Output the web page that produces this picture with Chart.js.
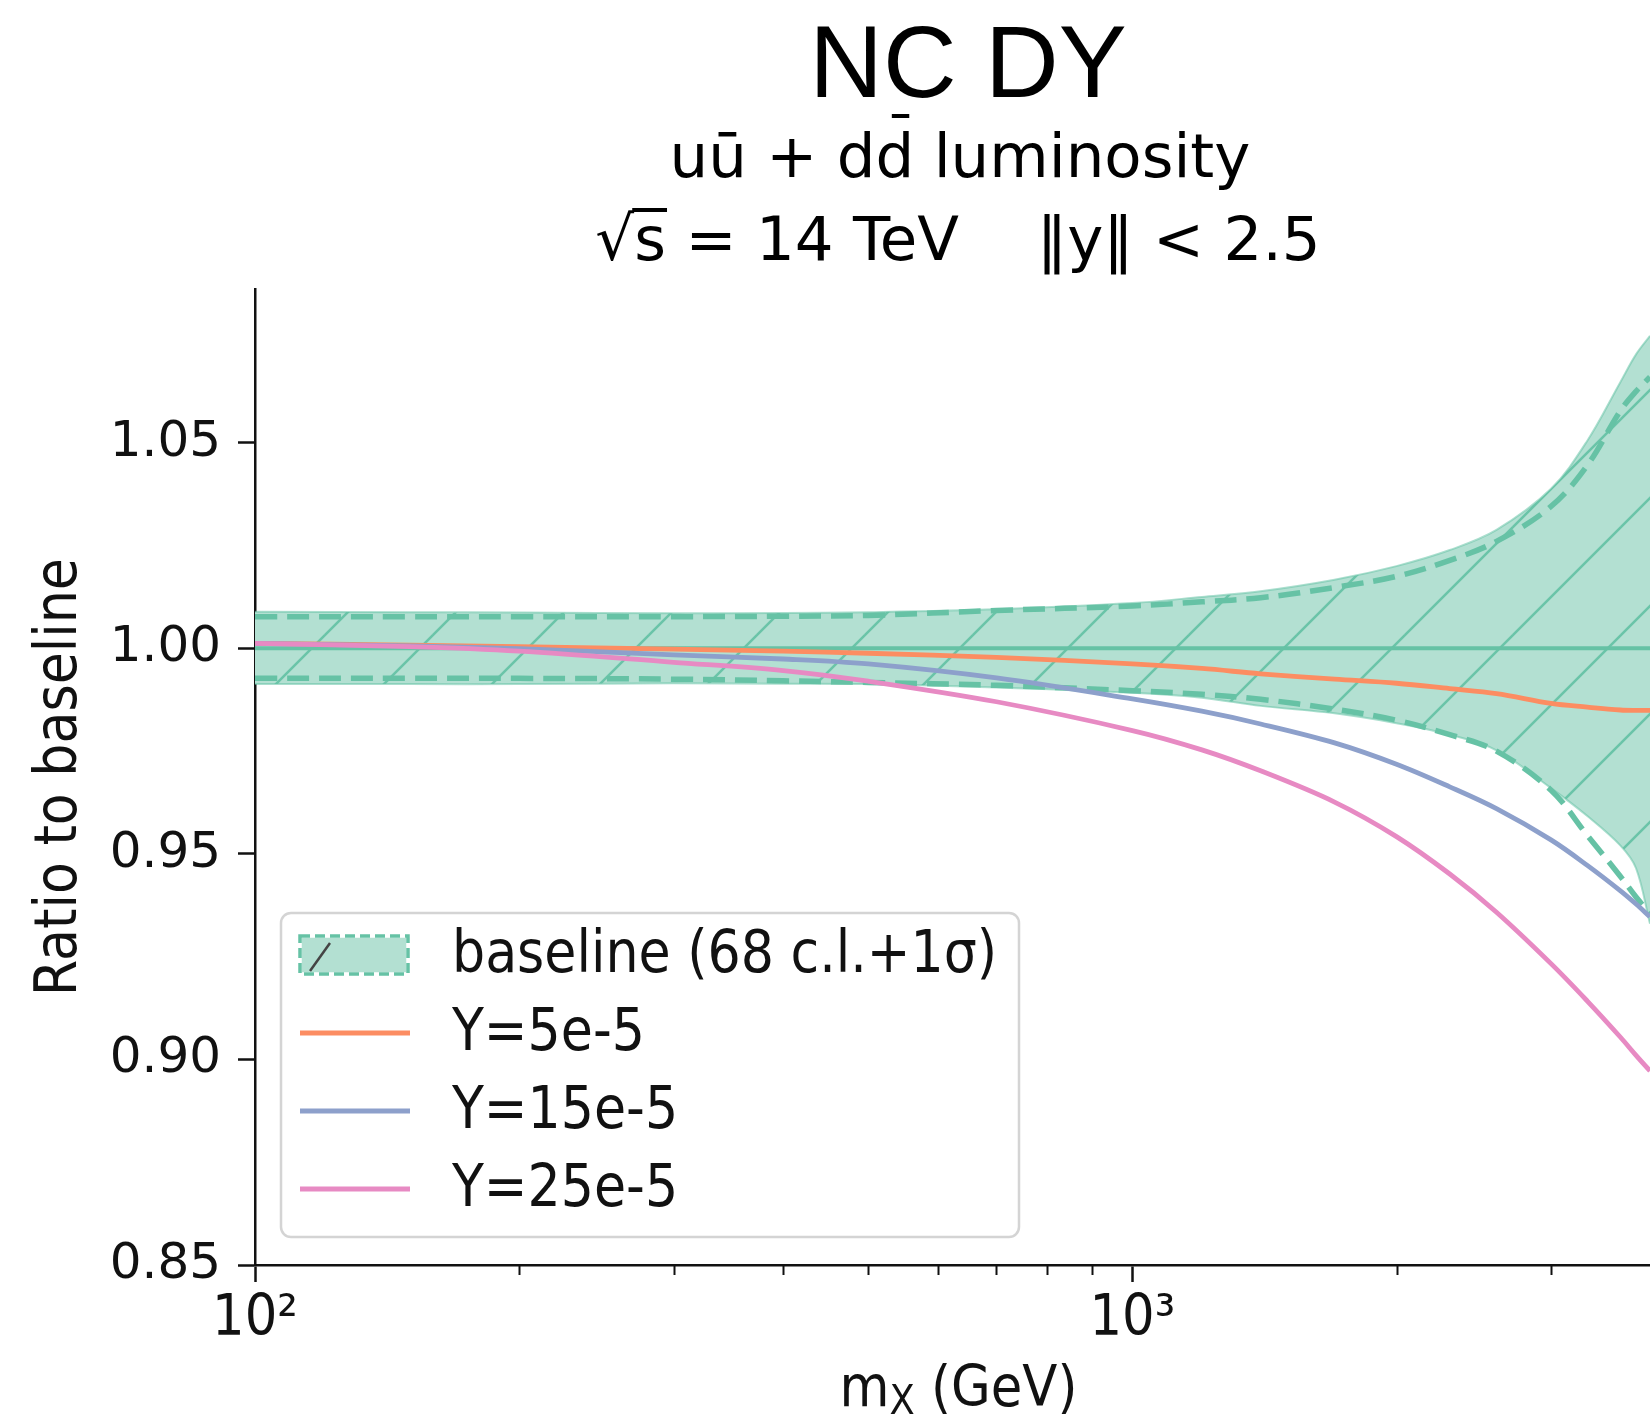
<!DOCTYPE html>
<html>
<head>
<meta charset="utf-8">
<title>NC DY luminosity ratio</title>
<script src="https://cdn.jsdelivr.net/npm/chart.js@4.4.1/dist/chart.umd.min.js"></script>
<style>
  html, body { margin: 0; padding: 0; background: #fff; overflow: hidden; }
  #wrap { width: 1650px; height: 1418px; }
</style>
</head>
<body>
<div id="wrap"><canvas id="lumiChart" width="1650" height="1418"></canvas></div>
<script>
// invariant mass grid (GeV)
const masses = [100, 150, 200, 300, 400, 500, 700, 1000, 1200, 1400, 1700, 2000, 2300, 2600, 3000, 3300, 3600, 3750, 3890];

// baseline uncertainty: 68 c.l. envelope and 1 sigma
const band68Upper = [1.0089, 1.0088, 1.0087, 1.0085, 1.0086, 1.0088, 1.0095, 1.0110, 1.0125, 1.0139, 1.0167, 1.0200, 1.0239, 1.0288, 1.0388, 1.0505, 1.0648, 1.0715, 1.0760];
const band68Lower = [0.9913, 0.9913, 0.9913, 0.9915, 0.9914, 0.9913, 0.9905, 0.9892, 0.9880, 0.9860, 0.9842, 0.9818, 0.9790, 0.9752, 0.9660, 0.9592, 0.9520, 0.9465, 0.9330];
const sigmaUpper  = [1.0077, 1.0077, 1.0077, 1.0077, 1.0078, 1.0080, 1.0092, 1.0103, 1.0113, 1.0123, 1.0148, 1.0175, 1.0214, 1.0260, 1.0345, 1.0445, 1.0578, 1.0625, 1.0660];
const sigmaLower  = [0.9927, 0.9927, 0.9927, 0.9925, 0.9921, 0.9917, 0.9910, 0.9897, 0.9888, 0.9876, 0.9852, 0.9825, 0.9790, 0.9750, 0.9655, 0.9545, 0.9445, 0.9395, 0.9355];

// ratios for the three Y values
const ratioY5  = [1.0012, 1.0008, 1.0004, 0.9998, 0.9993, 0.9988, 0.9978, 0.9962, 0.9951, 0.9938, 0.9925, 0.9915, 0.9902, 0.9890, 0.9866, 0.9857, 0.9850, 0.9849, 0.9849];
const ratioY15 = [1.0012, 1.0006, 0.9999, 0.9984, 0.9974, 0.9962, 0.9928, 0.9877, 0.9847, 0.9816, 0.9770, 0.9718, 0.9663, 0.9610, 0.9534, 0.9472, 0.9410, 0.9378, 0.9347];
const ratioY25 = [1.0012, 1.0004, 0.9993, 0.9966, 0.9946, 0.9920, 0.9870, 0.9800, 0.9753, 0.9702, 0.9626, 0.9542, 0.9451, 0.9358, 0.9233, 0.9142, 0.9054, 0.9010, 0.8972];

const seriesLabels = ['baseline (68 c.l.+1σ)', 'Y=5e-5', 'Y=15e-5', 'Y=25e-5'];

const xMajor = [100, 1000];
const xMinor = [200, 300, 400, 500, 600, 700, 800, 900, 2000, 3000];
const xTickText = { 100: '10²', 1000: '10³' };
const yTicks = [0.85, 0.90, 0.95, 1.00, 1.05];

const GREEN = '#66c2a5';
const FILL = '#b3e0d2';
const ORANGE = '#fc8d62';
const BLUE = '#8da0cb';
const PINK = '#e78ac3';
const COND = '"DejaVu Sans Condensed", "DejaVu Sans", sans-serif';

const pts = vals => masses.map((m, i) => ({ x: m, y: vals[i] }));

// "/" hatch on top of the band fill
function makeHatch() {
    const s = 108;
    const c = document.createElement('canvas');
    c.width = s; c.height = s;
    const g = c.getContext('2d');
    g.fillStyle = FILL;
    g.fillRect(0, 0, s, s);
    g.strokeStyle = 'rgba(102,194,165,0.95)';
    g.lineWidth = 2.5;
    [96 - s, 96, 96 + s].forEach(k => {
        g.beginPath();
        g.moveTo(-20, k + 20);
        g.lineTo(k + 20, -20);
        g.stroke();
    });
    return g.createPattern(c, 'repeat');
}

const textPlugin = {
    id: 'headings',
    afterDraw(chart) {
        const ctx = chart.ctx;
        ctx.save();
        ctx.fillStyle = '#000';
        ctx.textBaseline = 'alphabetic';
        ctx.textAlign = 'center';
        ctx.font = '102px "Liberation Sans", Arial, sans-serif';
        ctx.fillText('NC DY', 968, 97);

        // first subtitle line: bar over the second d drawn by hand
        ctx.font = '61px "DejaVu Sans", sans-serif';
        const l1 = 'uū + dd luminosity';
        const w1 = ctx.measureText(l1).width;
        ctx.textAlign = 'left';
        const x1 = 960 - w1 / 2;
        ctx.fillText(l1, x1, 177);
        const dStart = x1 + ctx.measureText('uū + d').width;
        const dW = ctx.measureText('d').width;
        ctx.fillRect(dStart + dW * 0.42, 177 - 63, dW * 0.45, 4);

        const l2 = '√s = 14 TeV    ‖y‖ < 2.5';
        const w2 = ctx.measureText(l2).width;
        const x2 = 958 - w2 / 2;
        ctx.fillText(l2, x2, 260);
        const sA = x2 + ctx.measureText('√').width;
        const sB = x2 + ctx.measureText('√s').width;
        ctx.fillRect(sA - 2, 260 - 52, sB - sA + 3, 4);

        // x axis title with subscript
        const xs = chart.scales.x;
        const cx = (xs.left + xs.right) / 2 + 6;
        ctx.fillStyle = '#111';
        ctx.font = '57px ' + COND;
        const a = 'm', b = ' (GeV)';
        const wa = ctx.measureText(a).width, wb = ctx.measureText(b).width;
        ctx.font = '41px ' + COND;
        const wsub = ctx.measureText('X').width;
        let x = cx - (wa + wsub + wb) / 2;
        ctx.font = '57px ' + COND;
        ctx.fillText(a, x, 1406);
        x += wa;
        ctx.font = '41px ' + COND;
        ctx.fillText('X', x, 1414);
        x += wsub;
        ctx.font = '57px ' + COND;
        ctx.fillText(b, x, 1406);

        // minor ticks on the log axis
        ctx.strokeStyle = '#111';
        ctx.lineWidth = 2;
        xMinor.forEach(v => {
            const px = Math.round(xs.getPixelForValue(v)) + 0.5;
            ctx.beginPath();
            ctx.moveTo(px, chart.chartArea.bottom);
            ctx.lineTo(px, chart.chartArea.bottom + 10);
            ctx.stroke();
        });
        ctx.restore();
    }
};

const legendPlugin = {
    id: 'insetLegend',
    afterDraw(chart) {
        const ctx = chart.ctx;
        const box = { x: 281, y: 913, w: 738, h: 324 };
        ctx.save();
        ctx.beginPath();
        ctx.roundRect(box.x, box.y, box.w, box.h, 10);
        ctx.fillStyle = 'rgba(255,255,255,0.85)';
        ctx.fill();
        ctx.strokeStyle = '#d4d4d4';
        ctx.lineWidth = 2.5;
        ctx.stroke();

        const entries = chart.data.datasets.filter(d => d.legendRow !== undefined);
        entries.forEach(ds => {
            const cy = 955 + ds.legendRow * 78;
            if (ds.legendRow === 0) {
                ctx.fillStyle = FILL;
                ctx.fillRect(300, cy - 19, 108, 38);
                ctx.strokeStyle = '#fff';
                ctx.lineWidth = 3.5;
                ctx.setLineDash([]);
                ctx.strokeRect(300, cy - 19, 108, 38);
                ctx.strokeStyle = GREEN;
                ctx.setLineDash([10, 5]);
                ctx.strokeRect(300, cy - 19, 108, 38);
                ctx.setLineDash([]);
                ctx.strokeStyle = '#444';
                ctx.lineWidth = 2.5;
                ctx.beginPath();
                ctx.moveTo(310, cy + 16);
                ctx.lineTo(330, cy - 12);
                ctx.stroke();
            } else {
                ctx.strokeStyle = ds.borderColor;
                ctx.lineWidth = 5;
                ctx.beginPath();
                ctx.moveTo(300, cy);
                ctx.lineTo(410, cy);
                ctx.stroke();
            }
            ctx.fillStyle = '#111';
            ctx.font = '58px ' + COND;
            ctx.textAlign = 'left';
            ctx.textBaseline = 'middle';
            ctx.fillText(ds.label, 452, cy + 2);
        });
        ctx.restore();
    }
};

const canvas = document.getElementById('lumiChart');
const hatch = makeHatch();

new Chart(canvas.getContext('2d'), {
    type: 'line',
    data: {
        datasets: [
            { label: seriesLabels[0], legendRow: 0, data: pts(band68Upper), fill: '+1', backgroundColor: hatch,
              borderColor: 'rgba(102,194,165,0.55)', borderWidth: 2, order: 10 },
            { label: 'band lower', data: pts(band68Lower), fill: false,
              borderColor: 'rgba(102,194,165,0.55)', borderWidth: 2, order: 9 },
            { label: '1σ upper', data: pts(sigmaUpper), borderColor: GREEN, borderWidth: 5.5, borderDash: [22, 10], order: 8 },
            { label: '1σ lower', data: pts(sigmaLower), borderColor: GREEN, borderWidth: 5.5, borderDash: [22, 10], order: 7 },
            { label: 'central', data: pts(masses.map(() => 1)), borderColor: GREEN, borderWidth: 4, order: 6 },
            { label: seriesLabels[1], legendRow: 1, data: pts(ratioY5), borderColor: ORANGE, borderWidth: 4.8, order: 3 },
            { label: seriesLabels[2], legendRow: 2, data: pts(ratioY15), borderColor: BLUE, borderWidth: 4.8, order: 2 },
            { label: seriesLabels[3], legendRow: 3, data: pts(ratioY25), borderColor: PINK, borderWidth: 4.8, order: 1 }
        ]
    },
    options: {
        responsive: false,
        animation: false,
        events: [],
        layout: { padding: { top: 289, left: 0, right: 0, bottom: 0 } },
        elements: {
            point: { radius: 0 },
            line: { tension: 0.35, fill: false }
        },
        plugins: {
            legend: { display: false },
            tooltip: { enabled: false },
            title: { display: false }
        },
        scales: {
            x: {
                type: 'logarithmic',
                min: 100,
                max: 3890,
                afterBuildTicks: s => {
                    s.ticks = xMajor.concat(xMinor).sort((a, b) => a - b).map(v => ({ value: v }));
                },
                afterFit: s => { s.height = 153; },
                ticks: {
                    autoSkip: false,
                    maxRotation: 0,
                    padding: 4,
                    color: '#111',
                    font: { family: COND, size: 57 },
                    callback: v => xTickText[v] || ''
                },
                grid: {
                    drawOnChartArea: false,
                    tickLength: 17,
                    tickWidth: 2.5,
                    tickColor: c => (c.tick && xMajor.includes(c.tick.value)) ? '#111' : 'rgba(0,0,0,0)'
                },
                border: { color: '#111', width: 2.5 }
            },
            y: {
                min: 0.85,
                max: 1.0874,
                afterBuildTicks: s => { s.ticks = yTicks.map(v => ({ value: v })); },
                afterFit: s => { s.width = 255; },
                ticks: {
                    padding: 17,
                    color: '#111',
                    font: { family: '"DejaVu Sans", sans-serif', size: 50 },
                    callback: v => v.toFixed(2)
                },
                grid: {
                    drawOnChartArea: false,
                    tickLength: 17,
                    tickWidth: 2.5,
                    tickColor: '#111'
                },
                border: { color: '#111', width: 2.5 },
                title: {
                    display: true,
                    text: 'Ratio to baseline',
                    color: '#111',
                    font: { family: COND, size: 58 },
                    padding: { top: 26, bottom: 0 }
                }
            }
        }
    },
    plugins: [textPlugin, legendPlugin]
});
</script>
</body>
</html>
